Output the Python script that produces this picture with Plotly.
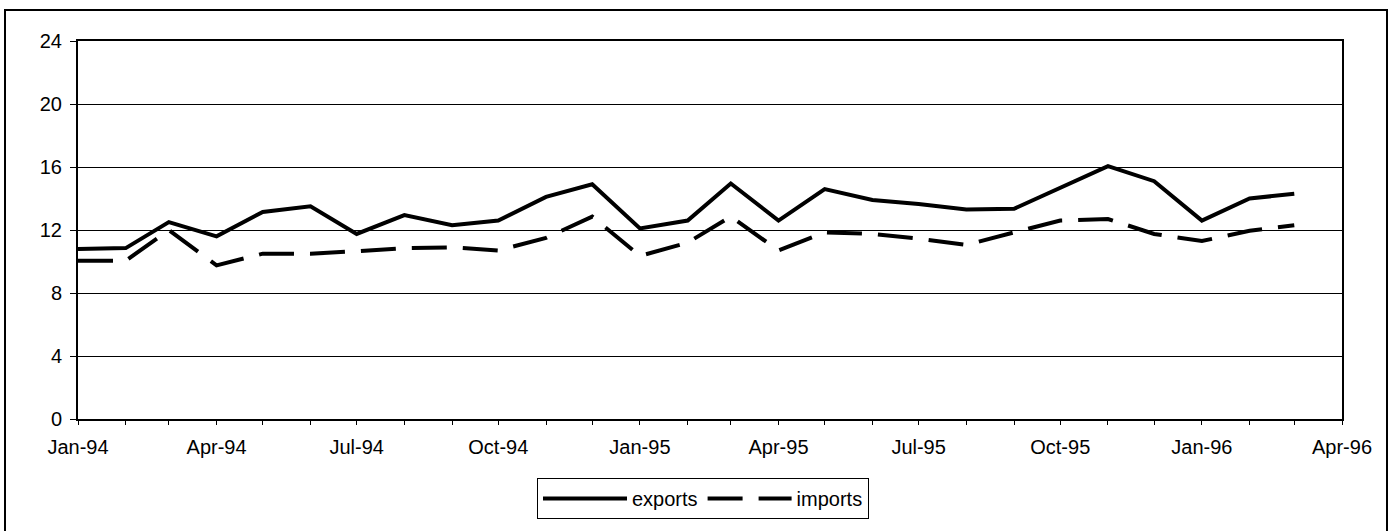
import plotly.graph_objects as go
import pandas as pd

months = pd.date_range("1994-01-01", "1996-03-01", freq="MS")
exports = [10.8, 10.85, 12.5, 11.6, 13.15, 13.5, 11.75, 12.95, 12.3, 12.6, 14.1, 14.9,
           12.1, 12.6, 14.95, 12.6, 14.6, 13.9, 13.65, 13.3, 13.35, 14.7, 16.05, 15.1,
           12.6, 14.0, 14.3]
imports = [10.05, 10.05, 12.0, 9.75, 10.5, 10.5, 10.65, 10.85, 10.9, 10.7, 11.5, 12.85,
           10.35, 11.2, 12.85, 10.7, 11.85, 11.75, 11.45, 11.05, 11.85, 12.6, 12.7, 11.75,
           11.3, 11.95, 12.3]
y_ticks = [0, 4, 8, 12, 16, 20, 24]

FONT = "Arial, 'Liberation Sans', sans-serif"
FS = 20

fig = go.Figure()
fig.add_trace(go.Scatter(x=months, y=exports, name="exports", mode="lines",
                         line=dict(color="black", width=4)))
fig.add_trace(go.Scatter(x=months, y=imports, name="imports", mode="lines",
                         line=dict(color="black", width=4, dash="35px,16px")))

L, R, T, B = 78, 1342, 41, 419
W, H = 1398, 531
pw, ph = R - L, B - T

def px(x):
    return (x - L) / pw

def py(y):
    return (B - y) / ph

fig.update_layout(
    width=W, height=H,
    margin=dict(l=L, r=W - R, t=T, b=H - B, autoexpand=False),
    paper_bgcolor="white", plot_bgcolor="white",
    font=dict(family=FONT, size=FS, color="black"),
    showlegend=True,
    legend=dict(orientation="h", x=px(703), xanchor="center", y=py(478), yanchor="top",
                bordercolor="black", borderwidth=1, bgcolor="white",
                font=dict(family=FONT, size=FS, color="black"),
                itemwidth=84, tracegroupgap=0),
    xaxis=dict(type="date", range=["1994-01-01", "1996-04-01"],
               tick0="1994-01-01", dtick="M3", tickformat="%b-%y",
               ticks="outside", ticklen=4, tickcolor="black", tickwidth=1,
               ticklabelstandoff=5,
               minor=dict(dtick="M1", ticks="outside", ticklen=4, tickcolor="black", showgrid=False),
               showgrid=False, showline=True, linecolor="black", linewidth=2, mirror=True,
               tickfont=dict(family=FONT, size=FS, color="black"), zeroline=False),
    yaxis=dict(range=[0, 24], tickvals=y_ticks, ticks="outside", ticklen=6,
               tickcolor="black", showgrid=True, gridcolor="black", gridwidth=1,
               ticklabelstandoff=4,
               showline=True, linecolor="black", linewidth=2, mirror=True,
               tickfont=dict(family=FONT, size=FS, color="black"), zeroline=False),
    shapes=[dict(type="rect", xref="paper", yref="paper",
                 x0=px(5), x1=px(1387), y0=py(545), y1=py(10),
                 line=dict(color="black", width=2), fillcolor="rgba(0,0,0,0)", layer="below")],
)

fig.write_html("out.html", config={"displayModeBar": False},
               post_script="document.body.style.margin='0';document.body.style.overflow='hidden';")
